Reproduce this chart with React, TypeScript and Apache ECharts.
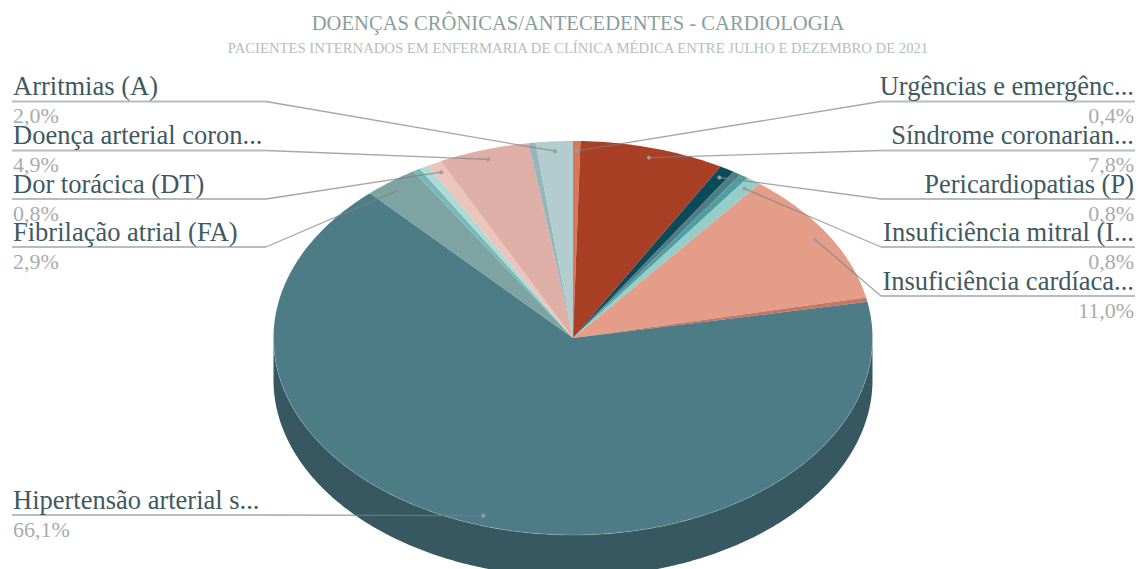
import React, { useEffect, useRef } from "react";
import * as echarts from "echarts";

const titleText = "DOENÇAS CRÔNICAS/ANTECEDENTES - CARDIOLOGIA";
const subtitleText = "PACIENTES INTERNADOS EM ENFERMARIA DE CLÍNICA MÉDICA ENTRE JULHO E DEZEMBRO DE 2021";

// Clockwise from twelve o'clock; empty names are the small slices the reference leaves unlabelled.
const sliceNames = [
  "Urgências e emergênc...",
  "Síndrome coronarian...",
  "Pericardiopatias (P)",
  "",
  "",
  "Insuficiência mitral (I...",
  "Insuficiência cardíaca...",
  "",
  "Hipertensão arterial s...",
  "Fibrilação atrial (FA)",
  "",
  "",
  "Dor torácica (DT)",
  "Doença arterial coron...",
  "",
  "Arritmias (A)",
];
const sliceValues = [0.4, 7.8, 0.8, 0.45, 0.45, 0.8, 11.0, 0.35, 66.1, 2.9, 0.4, 0.48, 0.8, 4.9, 0.37, 2.0];
const sliceColors = [
  "#D9775B", "#A93F25", "#0B4A58", "#4F7D85", "#4E9EA3", "#95CDC8", "#E39D89", "#C97565",
  "#4D7C87", "#7EA3A3", "#79B8B8", "#AEDAD5", "#EBC4BA", "#DEAFA6", "#97B6BC", "#B3CCCE",
];

// Layout, keyed by label name: height of each label's underline.
const labelLayout: Record<string, { side: "left" | "right"; y: number }> = {
  "Arritmias (A)": { side: "left", y: 101.5 },
  "Doença arterial coron...": { side: "left", y: 150.5 },
  "Dor torácica (DT)": { side: "left", y: 199 },
  "Fibrilação atrial (FA)": { side: "left", y: 247 },
  "Hipertensão arterial s...": { side: "left", y: 515 },
  "Urgências e emergênc...": { side: "right", y: 101.5 },
  "Síndrome coronarian...": { side: "right", y: 150.5 },
  "Pericardiopatias (P)": { side: "right", y: 199 },
  "Insuficiência mitral (I...": { side: "right", y: 247 },
  "Insuficiência cardíaca...": { side: "right", y: 296 },
};

const CX = 573;
const CY = 338;
const RX = 299.5;
const RY = 197;
const DEPTH = 42;
const SIDE_SHADE = 0.71;
const SERIF = '"Liberation Serif", serif';
const NAME_SIZE = 26.5;
const VALUE_SIZE = 22;

const total = sliceValues.reduce((a, b) => a + b, 0);
const starts: number[] = [];
sliceValues.reduce((acc, v, i) => {
  starts[i] = acc;
  return acc + v;
}, 0);

const toAngle = (cum: number) => (cum / total) * Math.PI * 2;
const pt = (a: number, r = 1, dy = 0): number[] => [
  CX + Math.sin(a) * RX * r,
  CY - Math.cos(a) * RY * r + dy,
];
const arc = (a0: number, a1: number, dy = 0): number[][] => {
  const n = Math.max(2, Math.ceil(Math.abs(a1 - a0) / 0.01));
  const out: number[][] = [];
  for (let i = 0; i <= n; i++) out.push(pt(a0 + ((a1 - a0) * i) / n, 1, dy));
  return out;
};
const shade = (c: string) => {
  const [r, g, b] = echarts.color.parse(c) as number[];
  return `rgb(${Math.round(r * SIDE_SHADE)},${Math.round(g * SIDE_SHADE)},${Math.round(b * SIDE_SHADE)})`;
};

function renderSlice(params: any, api: any) {
  const i = params.dataIndex;
  const a0 = toAngle(starts[i]);
  const a1 = toAngle(starts[i] + api.value(0));
  const color = sliceColors[i];
  const children: any[] = [];
  const w0 = Math.max(a0, Math.PI / 2);
  const w1 = Math.min(a1, (Math.PI * 3) / 2);
  if (w1 > w0) {
    children.push({
      type: "polygon",
      shape: { points: [...arc(w0, w1, 0), ...arc(w1, w0, DEPTH)] },
      style: { fill: shade(color) },
    });
  }
  children.push({
    type: "polygon",
    shape: { points: [[CX, CY], ...arc(a0, a1)] },
    style: { fill: color },
  });
  if (w1 > w0) {
    children.push({
      type: "polyline",
      shape: { points: arc(w0, w1) },
      style: { fill: "none", stroke: "rgba(255,255,255,0.3)", lineWidth: 0.6 },
    });
  }
  return { type: "group", children };
}

function renderLabel(params: any, api: any) {
  const i = params.dataIndex;
  const name = sliceNames[i];
  if (!name) return { type: "group", children: [] };
  const value = api.value(0);
  const layout = labelLayout[name];
  const left = layout.side === "left";
  const mid = toAngle(starts[i] + value / 2);
  const dot = pt(mid, 0.95);
  const outer = left ? 12 : 1135;
  const elbow = left ? 266 : 881;
  const anchor = left ? outer + 1 : outer - 1;
  return {
    type: "group",
    children: [
      {
        type: "polyline",
        shape: { points: [[outer, layout.y], [elbow, layout.y]] },
        style: { fill: "none", stroke: "#B8BCBE", lineWidth: 1.8 },
      },
      {
        type: "polyline",
        shape: { points: [[elbow, layout.y], dot] },
        style: { fill: "none", stroke: "rgba(125,128,130,0.7)", lineWidth: 1.3 },
      },
      { type: "circle", shape: { cx: dot[0], cy: dot[1], r: 2 }, style: { fill: "#9A9EA0" } },
      {
        type: "text",
        x: anchor,
        y: layout.y - 2,
        style: {
          text: name,
          font: `${NAME_SIZE}px ${SERIF}`,
          fill: "#40595F",
          align: left ? "left" : "right",
          verticalAlign: "bottom",
        },
      },
      {
        type: "text",
        x: anchor,
        y: layout.y + 3,
        style: {
          text: value.toFixed(1).replace(".", ",") + "%",
          font: `${VALUE_SIZE}px ${SERIF}`,
          fill: "#ABABAB",
          align: left ? "left" : "right",
          verticalAlign: "top",
        },
      },
    ],
  };
}

export default function App() {
  const ref = useRef<HTMLDivElement>(null);
  useEffect(() => {
    const chart = echarts.init(ref.current!, null, { renderer: "svg" });
    const data = sliceValues.map((v, i) => ({ name: sliceNames[i], value: [v] }));
    chart.setOption({
      animation: false,
      backgroundColor: "#ffffff",
      title: [
        {
          text: titleText,
          left: CX,
          top: 7,
          textAlign: "center",
          textStyle: { fontFamily: SERIF, fontSize: 20.6, fontWeight: "normal", color: "#8B9E9F" },
        },
        {
          text: subtitleText,
          left: CX,
          top: 35,
          textAlign: "center",
          textStyle: { fontFamily: SERIF, fontSize: 14.7, fontWeight: "normal", color: "#B4BEBE" },
        },
      ],
      series: [
        { type: "custom", coordinateSystem: "none", renderItem: renderSlice, data, silent: true },
        { type: "custom", coordinateSystem: "none", renderItem: renderLabel, data, silent: true, z: 5 },
      ],
    });
    return () => chart.dispose();
  }, []);
  return (
    <div
      ref={ref}
      style={{ position: "absolute", left: 0, top: 0, width: 1139, height: 569, overflow: "hidden" }}
    />
  );
}
